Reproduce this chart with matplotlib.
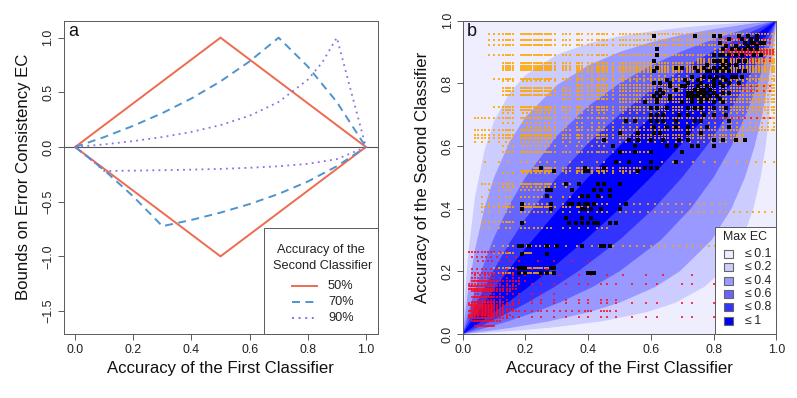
import matplotlib
matplotlib.use("Agg")
import matplotlib.pyplot as plt
from matplotlib.patches import Rectangle
from matplotlib.lines import Line2D

plt.rcParams['font.family'] = ['Liberation Sans', 'DejaVu Sans']

W, H = 797, 398

# ---------- panel a: bounds
a_50 = [0.0, 0.5, 1.0]
up_50 = [0.0, 1.0, 0.0]
lo_50 = [0.0, -1.0, 0.0]

a_70_up = [0.0, 0.1, 0.2, 0.3, 0.4, 0.5, 0.6, 0.7, 0.8, 0.9, 1.0]
up_70 = [0.0, 0.091, 0.194, 0.31, 0.444, 0.6, 0.783, 1.0, 0.737, 0.412, 0.0]
a_70_lo = [0.0, 0.1, 0.2, 0.3, 0.4, 0.5, 0.6, 0.7, 0.8, 0.9, 1.0]
lo_70 = [0.0, -0.212, -0.452, -0.724, -0.667, -0.6, -0.522, -0.429, -0.316, -0.176, 0.0]

a_90_up = [0.0, 0.1, 0.2, 0.3, 0.4, 0.5, 0.6, 0.7, 0.8, 0.85, 0.9, 0.95, 1.0]
up_90 = [0.0, 0.024, 0.054, 0.091, 0.138, 0.2, 0.286, 0.412, 0.615, 0.773, 1.0, 0.5, 0.0]
a_90_lo = [0.0, 0.05, 0.1, 0.2, 0.3, 0.4, 0.5, 0.6, 0.7, 0.8, 0.9, 1.0]
lo_90 = [0.0, -0.105, -0.22, -0.216, -0.212, -0.207, -0.2, -0.19, -0.176, -0.154, -0.111, 0.0]

legend_a_labels = ['50%', '70%', '90%']
ticks_a_x = [0.0, 0.2, 0.4, 0.6, 0.8, 1.0]
ticks_a_y = [-1.5, -1.0, -0.5, 0.0, 0.5, 1.0]

# ---------- panel b: band edges
band_a = [0.0, 0.005, 0.01, 0.02, 0.04, 0.07, 0.1, 0.15, 0.2, 0.3, 0.4, 0.5, 0.6, 0.7, 0.8, 0.9, 0.95, 1.0]
edge_01 = [0.0, 0.087, 0.161, 0.279, 0.442, 0.588, 0.679, 0.770, 0.826, 0.891, 0.927, 0.95, 0.966, 0.978, 0.987, 0.994, 0.997, 1.0]
edge_02 = [0.0, 0.043, 0.083, 0.155, 0.273, 0.404, 0.5, 0.614, 0.692, 0.794, 0.857, 0.9, 0.931, 0.955, 0.973, 0.988, 0.994, 1.0]
edge_04 = [0.0, 0.020, 0.039, 0.075, 0.143, 0.231, 0.308, 0.414, 0.5, 0.632, 0.727, 0.8, 0.857, 0.903, 0.941, 0.973, 0.987, 1.0]
edge_06 = [0.0, 0.012, 0.023, 0.045, 0.089, 0.149, 0.206, 0.292, 0.368, 0.5, 0.609, 0.7, 0.778, 0.845, 0.903, 0.955, 0.978, 1.0]
edge_08 = [0.0, 0.0075, 0.015, 0.030, 0.059, 0.101, 0.143, 0.209, 0.273, 0.391, 0.5, 0.6, 0.692, 0.778, 0.857, 0.931, 0.966, 1.0]
band_labels = ['≤\u20090.1', '≤\u20090.2', '≤\u20090.4', '≤\u20090.6', '≤\u20090.8', '≤\u20091']
band_colors = ['#EEEEFF', '#CCCCFF', '#9999FF', '#6666FF', '#3333FF', '#0000FF']

# x columns shared by the orange rows
orange_x = [0.02, 0.03, 0.04, 0.05, 0.06, 0.07, 0.085, 0.10, 0.115, 0.13, 0.137, 0.143, 0.15, 0.16, 0.185, 0.192,
            0.198, 0.205, 0.212, 0.219, 0.226, 0.233, 0.24, 0.247, 0.254, 0.261, 0.268, 0.275, 0.283, 0.295,
            0.32, 0.329, 0.342, 0.363, 0.371, 0.382, 0.40, 0.411, 0.427, 0.434, 0.443, 0.45, 0.459, 0.48,
            0.502, 0.512, 0.522, 0.533, 0.545, 0.556, 0.566, 0.577, 0.59, 0.60, 0.612, 0.625, 0.635, 0.645,
            0.655, 0.67, 0.68, 0.69, 0.70, 0.715, 0.725, 0.735, 0.75, 0.76, 0.77, 0.785, 0.795, 0.805, 0.82,
            0.83, 0.84, 0.855, 0.865, 0.875, 0.885, 0.895, 0.905, 0.915, 0.925, 0.935, 0.945, 0.955, 0.965,
            0.975, 0.985, 0.993]
# (second-classifier accuracy, first x, last x, keep every n-th column)
orange_rows = [(0.956, 0.08, 1.0, 1), (0.938, 0.08, 1.0, 1), (0.922, 0.08, 1.0, 1), (0.91, 0.8, 1.0, 1),
               (0.90, 0.8, 1.0, 1), (0.89, 0.08, 1.0, 1), (0.878, 0.75, 1.0, 1), (0.87, 0.75, 1.0, 1),
               (0.864, 0.12, 1.0, 1), (0.857, 0.12, 1.0, 1), (0.85, 0.12, 1.0, 1), (0.843, 0.12, 1.0, 1),
               (0.836, 0.35, 1.0, 1), (0.825, 0.35, 1.0, 2), (0.814, 0.09, 1.0, 1), (0.808, 0.13, 1.0, 2),
               (0.795, 0.35, 1.0, 1), (0.785, 0.12, 1.0, 1), (0.775, 0.12, 1.0, 1), (0.763, 0.12, 1.0, 1),
               (0.75, 0.3, 1.0, 1), (0.74, 0.5, 1.0, 1), (0.725, 0.1, 1.0, 1), (0.715, 0.13, 1.0, 1),
               (0.705, 0.13, 1.0, 2), (0.69, 0.04, 1.0, 1), (0.675, 0.13, 1.0, 2), (0.66, 0.2, 1.0, 2),
               (0.651, 0.04, 1.0, 1), (0.635, 0.04, 0.9, 1), (0.625, 0.04, 0.9, 1), (0.613, 0.04, 0.9, 2),
               (0.60, 0.13, 0.5, 2), (0.581, 0.12, 0.6, 1), (0.549, 0.07, 1.0, 3), (0.53, 0.22, 0.57, 1),
               (0.52, 0.18, 0.56, 1), (0.514, 0.13, 0.57, 2), (0.48, 0.06, 0.35, 1), (0.47, 0.12, 0.35, 2),
               (0.46, 0.08, 0.3, 2), (0.437, 0.06, 0.45, 2), (0.415, 0.06, 0.85, 2), (0.405, 0.06, 0.4, 1),
               (0.389, 0.055, 1.0, 2), (0.357, 0.055, 0.2, 1), (0.338, 0.055, 0.5, 2), (0.28, 0.09, 1.0, 2),
               (0.258, 0.09, 0.22, 1), (0.211, 0.09, 0.28, 1), (0.195, 0.09, 0.3, 1)]

red_x = [0.02, 0.025, 0.03, 0.035, 0.04, 0.045, 0.05, 0.055, 0.06, 0.065, 0.07, 0.075, 0.08, 0.085, 0.09, 0.095,
         0.10, 0.11, 0.12, 0.13, 0.14, 0.15, 0.16, 0.17, 0.18, 0.2, 0.22, 0.24, 0.25, 0.27, 0.29, 0.31, 0.33,
         0.35, 0.37, 0.39, 0.40, 0.41, 0.44, 0.45, 0.46, 0.47, 0.49, 0.51, 0.54, 0.56, 0.585, 0.6, 0.62, 0.64,
         0.7, 0.71, 0.73, 0.78, 0.8, 0.82, 0.85]
red_rows = [(0.263, 0.02, 0.14, 2), (0.245, 0.03, 0.2, 3), (0.232, 0.05, 0.42, 3), (0.207, 0.03, 0.3, 3),
            (0.196, 0.03, 0.2, 2), (0.189, 0.04, 0.75, 3), (0.18, 0.03, 0.2, 2), (0.168, 0.03, 0.2, 1),
            (0.16, 0.02, 0.86, 2), (0.152, 0.02, 0.17, 1), (0.145, 0.02, 0.17, 1), (0.136, 0.03, 0.15, 1),
            (0.127, 0.04, 0.3, 2), (0.118, 0.03, 0.13, 1), (0.11, 0.05, 0.5, 2), (0.103, 0.03, 0.13, 1),
            (0.099, 0.02, 0.8, 2), (0.092, 0.02, 0.16, 1), (0.086, 0.03, 0.13, 1), (0.08, 0.03, 0.16, 1),
            (0.073, 0.02, 0.5, 1), (0.068, 0.03, 0.13, 1), (0.06, 0.02, 0.15, 1), (0.055, 0.02, 0.85, 2),
            (0.05, 0.02, 0.14, 1), (0.04, 0.03, 0.12, 1), (0.027, 0.04, 0.1, 1)]
red_top_x = [0.80, 0.81, 0.82, 0.83, 0.84, 0.85, 0.86, 0.87, 0.88, 0.89, 0.90, 0.91, 0.92, 0.93, 0.94, 0.95, 0.96,
             0.97, 0.98, 0.99]
red_top_rows = [(0.94, 0.82, 1.0, 2), (0.93, 0.84, 1.0, 2), (0.905, 0.84, 1.0, 1), (0.90, 0.84, 1.0, 1),
                (0.895, 0.86, 1.0, 1), (0.88, 0.86, 1.0, 2), (0.87, 0.9, 1.0, 2), (0.79, 0.88, 1.0, 2),
                (0.775, 0.9, 1.0, 2), (0.69, 0.8, 1.0, 2)]

black_rows = [(0.95, [0.61, 0.74, 0.8, 0.82, 0.88, 0.91, 0.94]),
              (0.94, [0.85, 0.89, 0.92, 0.94]),
              (0.93, [0.82, 0.9, 0.92, 0.93, 0.95, 0.96]),
              (0.92, [0.84, 0.87, 0.91, 0.94]),
              (0.91, [0.62, 0.83, 0.86, 0.88, 0.9, 0.92, 0.94]),
              (0.89, [0.62, 0.8, 0.82, 0.83, 0.85, 0.87, 0.89, 0.93, 0.95]),
              (0.87, [0.61, 0.8, 0.81, 0.82, 0.84, 0.88, 0.9]),
              (0.86, [0.78, 0.83, 0.85, 0.87]),
              (0.85, [0.62, 0.68, 0.7, 0.74, 0.77, 0.8, 0.82, 0.84]),
              (0.84, [0.61, 0.75, 0.78, 0.79, 0.81, 0.83, 0.85, 0.88, 0.9]),
              (0.82, [0.73, 0.77, 0.79, 0.81, 0.83, 0.86, 0.87, 0.89]),
              (0.81, [0.65, 0.71, 0.75, 0.8, 0.84]),
              (0.80, [0.61, 0.63, 0.66, 0.72, 0.76, 0.8, 0.82, 0.85, 0.88]),
              (0.79, [0.66, 0.7, 0.71, 0.75, 0.78, 0.8, 0.83]),
              (0.78, [0.63, 0.68, 0.74, 0.76, 0.77, 0.79]),
              (0.77, [0.62, 0.64, 0.72, 0.73, 0.75, 0.76, 0.77, 0.78, 0.8, 0.83, 0.85]),
              (0.76, [0.61, 0.63, 0.66, 0.72, 0.73, 0.74, 0.75, 0.77, 0.79, 0.81]),
              (0.75, [0.62, 0.66, 0.73, 0.76, 0.78, 0.82]),
              (0.74, [0.58, 0.62, 0.7, 0.73, 0.76, 0.8, 0.83]),
              (0.72, [0.6, 0.62, 0.65, 0.72, 0.74, 0.76, 0.8, 0.84]),
              (0.70, [0.6, 0.62, 0.64, 0.69, 0.72, 0.77, 0.8, 0.84]),
              (0.68, [0.52, 0.55, 0.6, 0.62, 0.64, 0.68, 0.74, 0.76, 0.85]),
              (0.66, [0.61, 0.65, 0.68, 0.72, 0.78, 0.85]),
              (0.64, [0.5, 0.56, 0.61, 0.63, 0.72, 0.76]),
              (0.62, [0.45, 0.53, 0.56, 0.6, 0.64, 0.69, 0.72, 0.8, 0.83, 0.87, 0.9]),
              (0.60, [0.48, 0.55, 0.65, 0.68, 0.73, 0.75, 0.8]),
              (0.58, [0.5, 0.55, 0.6, 0.7]),
              (0.55, [0.49, 0.53, 0.6, 0.68]),
              (0.53, [0.25, 0.39, 0.45, 0.58, 0.6, 0.62]),
              (0.52, [0.29, 0.39, 0.4, 0.56]),
              (0.48, [0.33, 0.37, 0.43, 0.45, 0.5]),
              (0.46, [0.27, 0.28, 0.35, 0.42, 0.44, 0.47]),
              (0.44, [0.27, 0.38, 0.4, 0.43, 0.47]),
              (0.415, [0.19, 0.28, 0.34, 0.35, 0.37, 0.39, 0.4, 0.42, 0.52]),
              (0.40, [0.19, 0.28, 0.38, 0.39, 0.41, 0.44, 0.5]),
              (0.37, [0.33, 0.38, 0.41]),
              (0.355, [0.19, 0.34, 0.36, 0.38, 0.4, 0.42, 0.43, 0.47, 0.49]),
              (0.28, [0.18, 0.19, 0.21, 0.27, 0.3, 0.38, 0.44, 0.45, 0.47]),
              (0.255, [0.19, 0.27]),
              (0.21, [0.18, 0.19, 0.2, 0.28, 0.29]),
              (0.195, [0.18, 0.2, 0.25, 0.27, 0.29, 0.4, 0.41, 0.42])]

ticks_b = [0.0, 0.2, 0.4, 0.6, 0.8, 1.0]

COL_50, COL_70, COL_90 = '#EE6A50', '#4F94CD', '#8470E8'
EDGE = '#5a5a5a'
FS_TICK, FS_LAB, FS_LEG = 8.9, 12.1, 9.2


def px_rect(l, r, t, b):
    return [l / W, 1 - b / H, (r - l) / W, (b - t) / H]


def style(ax, xt, yt):
    for s in ax.spines.values():
        s.set_color(EDGE)
        s.set_linewidth(0.7)
    ax.set_xticks(xt)
    ax.set_yticks(yt)
    ax.set_xticklabels([f'{v:.1f}' for v in xt], fontsize=FS_TICK, color='#222222')
    ax.set_yticklabels([f'{v:.1f}'.replace('-', '\u2212') for v in yt], fontsize=FS_TICK,
                       rotation=90, va='center', color='#222222')
    ax.tick_params(axis='x', length=4.3, width=0.7, color=EDGE, pad=2.6)
    ax.tick_params(axis='y', length=4.3, width=0.7, color=EDGE, pad=2.2)


def expand(rows, xs):
    out_x, out_y = [], []
    for y, lo, hi, step in rows:
        sel = [v for v in xs if lo <= v <= hi][::step]
        out_x += sel
        out_y += [y] * len(sel)
    return out_x, out_y


fig = plt.figure(figsize=(W / 100, H / 100), dpi=100, facecolor='white')


def ftext(x, y, s, **kw):
    kw.setdefault('ha', 'center')
    kw.setdefault('va', 'center')
    fig.text(x / W, 1 - y / H, s, **kw)


# ---- panel a
axa = fig.add_axes(px_rect(63.5, 377.5, 20.7, 334))
axa.set_xlim(-0.04, 1.04)
axa.set_ylim(-1.71, 1.155)
axa.axhline(0, color='#555555', lw=0.8, zorder=1)
DASH = (4.1, 2.8)
DOT = (1.0, 2.4)
axa.plot(a_50, up_50, color=COL_50, lw=1.4, solid_joinstyle='miter', zorder=2)
axa.plot(a_50, lo_50, color=COL_50, lw=1.4, solid_joinstyle='miter', zorder=2)
axa.plot(a_70_up, up_70, color=COL_70, lw=1.4, dashes=DASH, zorder=3)
axa.plot(a_70_lo, lo_70, color=COL_70, lw=1.4, dashes=DASH, zorder=3)
axa.plot(a_90_up, up_90, color=COL_90, lw=1.3, dashes=DOT, zorder=3)
axa.plot(a_90_lo, lo_90, color=COL_90, lw=1.3, dashes=DOT, zorder=3)
style(axa, ticks_a_x, ticks_a_y)

# ---- panel b
axb = fig.add_axes(px_rect(462.7, 776.3, 20.7, 334))
axb.set_xlim(0, 1)
axb.set_ylim(0, 1)
axb.set_facecolor(band_colors[0])
for edge, col in zip([edge_01, edge_02, edge_04, edge_06, edge_08], band_colors[1:]):
    axb.fill(band_a + edge[::-1], edge + band_a[::-1], color=col, lw=0, zorder=1)
ox, oy = expand(orange_rows, orange_x)
rx, ry = expand(red_rows, red_x)
tx, ty = expand(red_top_rows, red_top_x)
bx = [v for _, xs in black_rows for v in xs]
by = [y for y, xs in black_rows for _ in xs]
axb.scatter(ox, oy, s=0.9, marker='s', color='#FFA500', alpha=0.85, linewidths=0, zorder=3)
axb.scatter(rx + tx, ry + ty, s=1.0, marker='s', color='#FF0A1E', alpha=0.8, linewidths=0, zorder=4)
axb.scatter(bx, by, s=5, marker='s', color='#050505', linewidths=0, zorder=5)
style(axb, ticks_b, ticks_b)

# ---- axis titles
ftext(220.5, 369, 'Accuracy of the First Classifier', fontsize=FS_LAB, color='#111111')
ftext(619.5, 369, 'Accuracy of the First Classifier', fontsize=FS_LAB, color='#111111')
ftext(24, 177, 'Bounds on Error Consistency EC', fontsize=FS_LAB, rotation=90, color='#111111')
ftext(423, 177, 'Accuracy of the Second Classifier', fontsize=FS_LAB, rotation=90, color='#111111')
ftext(73, 32, 'a', fontsize=13, color='#111111')
ftext(472, 32, 'b', fontsize=13, color='#111111')

# ---- legend a
fig.add_artist(Rectangle((264.3 / W, 1 - 334 / H), (377.5 - 264.3) / W, (334 - 228.3) / H,
                         transform=fig.transFigure, fc='white', ec=EDGE, lw=0.7, zorder=6))
ftext(320.7, 250.5, 'Accuracy of the', fontsize=FS_LEG, color='#222222', zorder=7)
ftext(322.3, 266, 'Second Classifier', fontsize=FS_LEG, color='#222222', zorder=7)
for yy, lab, col, ds in zip([286.3, 302, 318.3], legend_a_labels, [COL_50, COL_70, COL_90], [(None, None), DASH, DOT]):
    ln = Line2D([291.7 / W, 316.7 / W], [1 - yy / H] * 2, transform=fig.transFigure, color=col, lw=1.4, zorder=7)
    if ds[0] is not None:
        ln.set_dashes(ds)
    fig.add_artist(ln)
    ftext(328, yy, lab, fontsize=FS_LEG, ha='left', color='#222222', zorder=7)

# ---- legend b
fig.add_artist(Rectangle((714.7 / W, 1 - 334 / H), (776.3 - 714.7) / W, (334 - 227.3) / H,
                         transform=fig.transFigure, fc='white', ec=EDGE, lw=0.7, zorder=6))
ftext(745, 237.5, 'Max EC', fontsize=FS_TICK, color='#222222', zorder=7)
for yy, lab, col in zip([254, 267.3, 280.7, 294, 307.3, 320.7], band_labels, band_colors):
    fig.add_artist(Rectangle((724.2 / W, 1 - (yy + 4) / H), 8.4 / W, 8 / H, transform=fig.transFigure,
                             fc=col, ec='#666666', lw=0.8, zorder=7))
    ftext(745, yy, lab, fontsize=FS_TICK, ha='left', color='#222222', zorder=7)

fig.savefig('out.png', dpi=100)
